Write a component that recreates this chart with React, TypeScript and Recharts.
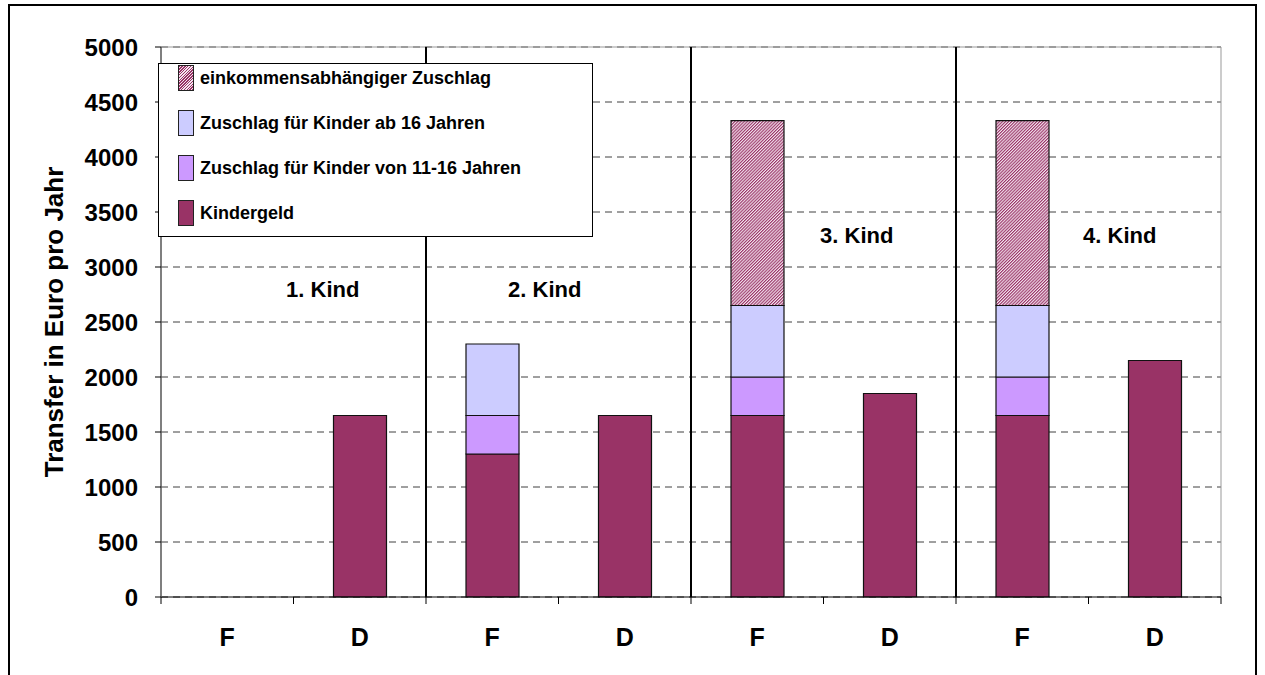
import React from "react"
import { Bar, BarChart, CartesianGrid, Legend, ReferenceDot, ReferenceLine, XAxis, YAxis } from "recharts"

const categories = ["F", "D", "F", "D", "F", "D", "F", "D"]
const groups = [1, 1, 2, 2, 3, 3, 4, 4]
const kindergeld = [0, 1650, 1300, 1650, 1650, 1850, 1650, 2150]
const zuschlag1116 = [0, 0, 350, 0, 350, 0, 350, 0]
const zuschlagAb16 = [0, 0, 650, 0, 650, 0, 650, 0]
const einkommen = [0, 0, 0, 0, 1680, 0, 1680, 0]
const yTicks = [0, 500, 1000, 1500, 2000, 2500, 3000, 3500, 4000, 4500, 5000]
const groupLabels = ["1. Kind", "2. Kind", "3. Kind", "4. Kind"]
const groupLabelAt = ["D1", "D2", "D3", "D4"]
const groupLabelY = [2800, 2800, 3290, 3290]
const groupLabelDx = [-37, -80, -33, -35]
const separators = ["F2", "F3", "F4"]

const FONT = "'Liberation Sans', Arial, sans-serif"

const series = [
  { key: "kg", name: "Kindergeld", fill: "#993366", css: "#993366" },
  { key: "z1116", name: "Zuschlag für Kinder von 11-16 Jahren", fill: "#CC99FF", css: "#CC99FF" },
  { key: "zab16", name: "Zuschlag für Kinder ab 16 Jahren", fill: "#CCCCFF", css: "#CCCCFF" },
  {
    key: "eink",
    name: "einkommensabhängiger Zuschlag",
    fill: "url(#hatch)",
    css: "repeating-linear-gradient(135deg, #993366 0px, #993366 1px, #f4e6f0 1px, #f4e6f0 2px)",
  },
]

const data = categories.map((cat, i) => ({
  id: `${cat}${groups[i]}`,
  cat,
  kg: kindergeld[i],
  z1116: zuschlag1116[i],
  zab16: zuschlagAb16[i],
  eink: einkommen[i],
}))

function XTick(props: any) {
  const { x, y, payload, index } = props
  const half = payload && payload.offset ? payload.offset : 66.25
  const last = index === categories.length - 1
  return (
    <g>
      <line x1={x - half} x2={x - half} y1={y} y2={y + 7} stroke="#000" />
      {last && <line x1={x + half} x2={x + half} y1={y} y2={y + 7} stroke="#000" />}
      <text x={x} y={y + 40} textAnchor="middle" dominantBaseline="central" fontFamily={FONT} fontWeight="bold" fontSize={25} fill="#000">
        {categories[index]}
      </text>
    </g>
  )
}

function YTitle(props: any) {
  const vb = props.viewBox || { y: 47, height: 550 }
  const cy = vb.y + vb.height / 2
  return (
    <text x={54} y={cy} transform={`rotate(-90, 54, ${cy})`} textAnchor="middle" dominantBaseline="central" fontFamily={FONT} fontWeight="bold" fontSize={26} fill="#000">
      Transfer in Euro pro Jahr
    </text>
  )
}

function LegendBox() {
  const items = [...series].reverse()
  return (
    <div style={{ width: 435, height: 174, border: "1px solid #000", background: "#fff", boxSizing: "border-box", position: "relative", fontFamily: FONT, fontWeight: "bold", fontSize: 18, color: "#000" }}>
      {items.map((s, i) => (
        <div key={s.key}>
          <div style={{ position: "absolute", left: 19, top: 1 + i * 45, width: 16, height: 26, background: s.css, border: "1px solid #222", boxSizing: "border-box" }} />
          <div style={{ position: "absolute", left: 41, top: 3 + i * 45, lineHeight: "22px", whiteSpace: "nowrap" }}>{s.name}</div>
        </div>
      ))}
    </div>
  )
}

export default function App() {
  return (
    <div style={{ position: "relative", width: 1265, height: 675, overflow: "hidden", background: "#fff" }}>
      <style>{`body{margin:0;overflow:hidden}`}</style>
      <div style={{ position: "absolute", left: 8, top: 4, width: 1249, height: 700, border: "2px solid #000", boxSizing: "border-box" }} />
      <div style={{ position: "absolute", left: 0, top: 0 }}>
        <BarChart width={1265} height={675} data={data} margin={{ top: 47, right: 44, left: 0, bottom: 0 }} barSize={53}>
          <defs>
            <pattern id="hatch" width="2.2" height="2.2" patternUnits="userSpaceOnUse" patternTransform="rotate(45)">
              <rect width="2.2" height="2.2" fill="#f4e6f0" />
              <rect width="1.1" height="2.2" fill="#993366" />
            </pattern>
          </defs>
          <CartesianGrid vertical={false} stroke="#404040" strokeDasharray="7 5" />
          <XAxis dataKey="id" height={78} tickLine={false} tickSize={0} tickMargin={0} axisLine={{ stroke: "#000" }} tick={<XTick />} interval={0} />
          <YAxis
            width={161}
            domain={[0, 5000]}
            ticks={yTicks}
            interval={0}
            tickSize={6}
            tickMargin={17}
            axisLine={{ stroke: "#555", strokeWidth: 1.5 }}
            tickLine={{ stroke: "#000" }}
            tick={{ fontFamily: FONT, fontWeight: "bold", fontSize: 24, fill: "#000" }}
            label={<YTitle />}
          />
          <ReferenceLine y={5000} stroke="#999" />
          <ReferenceLine x="D4" position="end" stroke="#999" />
          {series.map((s) => (
            <Bar key={s.key} dataKey={s.key} name={s.name} stackId="a" fill={s.fill} stroke="#111" strokeWidth={1.2} isAnimationActive={false} />
          ))}
          {separators.map((x) => (
            <ReferenceLine key={x} x={x} position="start" stroke="#000" strokeWidth={2} />
          ))}
          {groupLabels.map((g, i) => (
            <ReferenceDot
              key={g}
              x={groupLabelAt[i]}
              y={groupLabelY[i]}
              r={0}
              fill="none"
              stroke="none"
              label={{ value: g, position: "center", dx: groupLabelDx[i], fontFamily: FONT, fontWeight: "bold", fontSize: 22, fill: "#000" }}
            />
          ))}
          <Legend
            layout="vertical"
            align="center"
            verticalAlign="middle"
            content={<LegendBox />}
            wrapperStyle={{ left: 158, top: 63, width: 435, height: 174 }}
          />
        </BarChart>
      </div>
    </div>
  )
}
